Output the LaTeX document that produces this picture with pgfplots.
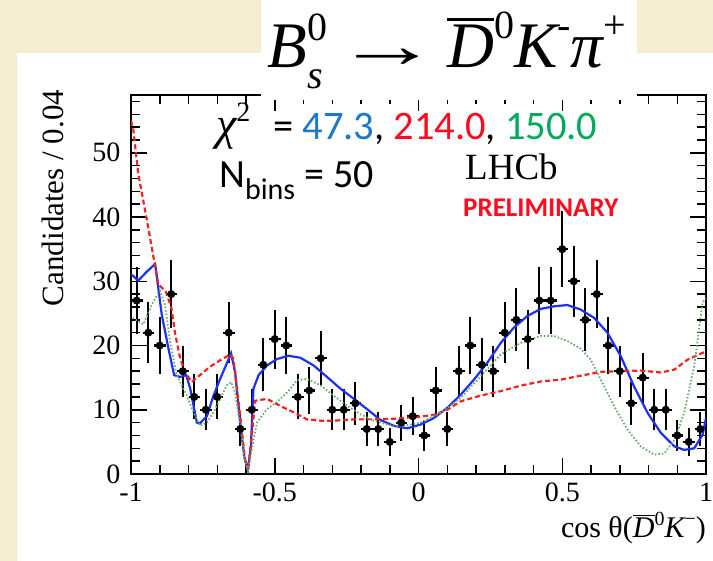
\documentclass[border=0pt]{standalone}
\usepackage{pgfplots}
\pgfplotsset{compat=1.18}
\usepackage{fontspec}
\setmainfont{Liberation Serif}
\newfontfamily\calibri{Carlito}

\definecolor{parch}{RGB}{244,237,207}
\definecolor{txtblue}{RGB}{30,120,200}
\definecolor{txtred}{RGB}{255,10,30}
\definecolor{txtgreen}{RGB}{0,170,90}
\definecolor{fitblue}{RGB}{30,50,235}
\definecolor{fitred}{RGB}{240,35,35}
\definecolor{fitgreen}{RGB}{100,170,100}

% italic letter with a bar over it
\newcommand{\barit}[1]{\leavevmode\hbox{\vbox{\hrule height 0.05em\kern0.07em\hbox{\itshape #1}}}}
% raised or lowered small text
\newcommand{\up}[3]{\raisebox{#1}{\fontsize{#2}{#2}\selectfont #3}}

% binned data: bin centre, candidates, half bin width, Poisson error
\pgfplotstableread{
x y ex ey
-0.98 27 0.02 5.2
-0.94 22 0.02 4.7
-0.90 20 0.02 4.5
-0.86 28 0.02 5.3
-0.82 16 0.02 4.0
-0.78 12 0.02 3.5
-0.74 10 0.02 3.2
-0.70 12 0.02 3.5
-0.66 22 0.02 4.7
-0.62 7 0.02 2.6
-0.58 10 0.02 3.2
-0.54 17 0.02 4.1
-0.50 21 0.02 4.6
-0.46 20 0.02 4.5
-0.42 12 0.02 3.5
-0.38 13 0.02 3.6
-0.34 18 0.02 4.2
-0.30 10 0.02 3.2
-0.26 10 0.02 3.2
-0.22 11 0.02 3.3
-0.18 7 0.02 2.6
-0.14 7 0.02 2.6
-0.10 5 0.02 2.2
-0.06 8 0.02 2.8
-0.02 9 0.02 3.0
0.02 6 0.02 2.4
0.06 13 0.02 3.6
0.10 7 0.02 2.6
0.14 16 0.02 4.0
0.18 20 0.02 4.5
0.22 17 0.02 4.1
0.26 16 0.02 4.0
0.30 22 0.02 4.7
0.34 24 0.02 4.9
0.38 21 0.02 4.6
0.42 27 0.02 5.2
0.46 27 0.02 5.2
0.50 35 0.02 5.9
0.54 30 0.02 5.5
0.58 24 0.02 4.9
0.62 28 0.02 5.3
0.66 20 0.02 4.5
0.70 16 0.02 4.0
0.74 11 0.02 3.3
0.78 15 0.02 3.9
0.82 10 0.02 3.2
0.86 10 0.02 3.2
0.90 6 0.02 2.4
0.94 5 0.02 2.2
0.98 7 0.02 2.6
}\bindata

\begin{document}
\begin{tikzpicture}[x=1pt,y=1pt]
\useasboundingbox (0,0) rectangle (713,561);
\fill[parch] (0,0) rectangle (713,561);
\fill[white] (17,0) rectangle (713,508);

\begin{axis}[
  at={(131pt,87pt)}, anchor=south west,
  scale only axis, width=575pt, height=379pt,
  xmin=-1, xmax=1, ymin=0, ymax=59,
  xtick={-1,-0.5,0,0.5,1},
  xticklabels={-1,-0.5,0,0.5,1},
  minor xtick={-0.9,-0.8,-0.7,-0.6,-0.4,-0.3,-0.2,-0.1,0.1,0.2,0.3,0.4,0.6,0.7,0.8,0.9},
  ytick={0,10,20,30,40,50},
  yticklabels={0,10,20,30,40,50},
  minor ytick={2,4,6,8,12,14,16,18,22,24,26,28,32,34,36,38,42,44,46,48,52,54,56,58},
  tick pos=both,
  major tick length=16pt, minor tick length=9pt,
  tick style={line width=1.5pt, black},
  axis line style={line width=1.5pt},
  ticklabel style={font=\fontsize{28}{30}\selectfont},
  xticklabel style={yshift=-5pt},
  yticklabel style={xshift=-7pt},
  clip=true,
]
\addplot[only marks, mark=*, mark size=3.8pt, black,
  error bars/.cd, x dir=both, x explicit, y dir=both, y explicit,
  error mark=none, error bar style={line width=2.2pt, black}]
  table[x=x, y=y, x error=ex, y error=ey] {\bindata};

% total fit
\addplot[fitblue, line width=2.2pt] coordinates {
(-1.0,31.0) (-0.994,30.9) (-0.975,30.1) (-0.945,31.5) (-0.916,32.7) (-0.893,24.8)
(-0.870,19.6) (-0.850,15.4) (-0.829,15.1) (-0.808,15.4) (-0.794,13.3) (-0.771,8.0)
(-0.760,7.9) (-0.736,9.0) (-0.713,12.2) (-0.690,14.8) (-0.667,17.2) (-0.652,18.8)
(-0.638,15.9) (-0.620,8.0) (-0.606,2.7) (-0.593,0.6) (-0.583,4.3) (-0.574,13.3)
(-0.556,15.4) (-0.527,16.9) (-0.492,17.9) (-0.452,18.4) (-0.411,18.1) (-0.365,16.9)
(-0.318,15.1) (-0.272,13.3) (-0.225,11.7) (-0.179,10.1) (-0.132,8.4) (-0.086,7.5)
(-0.039,7.1) (0.007,7.7) (0.053,8.7) (0.100,10.3) (0.146,12.3) (0.193,14.7)
(0.239,17.3) (0.286,20.4) (0.332,22.8) (0.379,24.6) (0.425,25.7) (0.471,26.1)
(0.518,26.3) (0.564,25.6) (0.611,24.3) (0.657,22.0) (0.704,18.3) (0.750,13.6)
(0.797,9.5) (0.843,6.4) (0.890,4.3) (0.924,3.75) (0.959,4.0) (0.988,6.1) (1.0,8.7)
};

% alternative model, dashed
\addplot[fitred, line width=2.2pt, dash pattern=on 5pt off 3pt] coordinates {
(-1.0,55.0) (-0.992,53.6) (-0.975,46.8) (-0.945,39.6) (-0.922,33.8) (-0.905,29.5)
(-0.880,28.5) (-0.860,26.0) (-0.847,22.0) (-0.829,18.0) (-0.812,15.9) (-0.789,14.3)
(-0.760,15.4) (-0.725,16.7) (-0.690,17.7) (-0.655,18.6) (-0.644,18.0) (-0.620,9.0)
(-0.602,1.7) (-0.593,0.6) (-0.580,5.9) (-0.568,11.4) (-0.527,11.7) (-0.481,10.6)
(-0.434,9.6) (-0.388,8.5) (-0.341,8.3) (-0.295,8.3) (-0.225,8.5) (-0.156,8.5)
(-0.086,8.6) (0.000,8.9) (0.053,9.2) (0.100,10.0) (0.146,11.3) (0.216,12.2)
(0.286,12.9) (0.355,13.75) (0.425,14.4) (0.495,14.7) (0.564,15.3) (0.634,15.9)
(0.704,16.0) (0.773,16.1) (0.843,15.8) (0.890,16.25) (0.936,17.8) (1.0,19.1)
};

% alternative model, dotted
\addplot[fitgreen, line width=1.8pt, dash pattern=on 1.5pt off 2pt] coordinates {
(-0.994,24.3) (-0.957,23.3) (-0.922,26.9) (-0.899,28.5) (-0.882,26.4) (-0.864,20.6)
(-0.841,15.4) (-0.806,12.2) (-0.783,9.6) (-0.760,7.5) (-0.736,8.0) (-0.713,9.6)
(-0.690,11.7) (-0.667,13.8) (-0.652,14.3) (-0.638,12.7) (-0.620,7.5) (-0.605,2.2)
(-0.593,0.6) (-0.580,3.8) (-0.562,8.0) (-0.527,10.1) (-0.492,11.2) (-0.457,12.7)
(-0.422,14.6) (-0.388,14.8) (-0.341,13.8) (-0.295,12.2) (-0.248,10.6) (-0.202,9.3)
(-0.156,8.3) (-0.109,7.7) (-0.063,7.4) (0.007,8.0) (0.076,9.5) (0.146,11.8)
(0.216,15.2) (0.286,18.6) (0.355,20.4) (0.425,21.5) (0.471,21.5) (0.518,20.7)
(0.564,19.5) (0.599,17.8) (0.634,14.7) (0.681,10.5) (0.727,6.9) (0.773,4.3)
(0.820,3.0) (0.855,3.2) (0.890,5.3) (0.924,9.5) (0.959,16.8) (0.988,26.7) (1.0,27.4)
};
\end{axis}

% axis titles
\node[rotate=90, anchor=base, inner sep=0] at (63,363)
  {\fontsize{31}{34}\selectfont Candidates / 0.04};
\node[anchor=base east, inner sep=0] at (706,23)
  {\fontsize{30}{34}\selectfont cos θ(\barit{D}\up{0.42em}{20}{0}{\itshape K}\up{0.42em}{20}{−})};

% decay title on its white tab
\fill[white] (261,461) rectangle (637,561);
\node[anchor=base, inner sep=0] at (447,493)
  {\fontsize{65}{68}\selectfont {\itshape B}\makebox[0pt][l]{\up{-0.32em}{40}{\itshape s}}\up{0.42em}{40}{0}\hspace{0.12em}\scalebox{1.6}[1]{→}\hspace{0.12em}\barit{D}\up{0.45em}{40}{0}{\itshape K}\up{0.45em}{40}{-}{\itshape π}\up{0.45em}{40}{+}};

% fit summary
\node[anchor=base west, inner sep=0] at (216,421)
  {\fontsize{46}{48}\selectfont{\itshape χ}\up{0.4em}{28}{2}};
\node[anchor=base west, inner sep=0] at (273,421)
  {\calibri\fontsize{40.5}{42}\selectfont = \textcolor{txtblue}{47.3}, \textcolor{txtred}{214.0}, \textcolor{txtgreen}{150.0}};
\node[anchor=base west, inner sep=0] at (219,373)
  {\calibri\fontsize{40}{42}\selectfont N\up{-0.3em}{30}{bins} = 50};
\node[anchor=base west, inner sep=0] at (465,381)
  {\fontsize{37}{39}\selectfont LHCb};
\node[anchor=base west, inner sep=0, text=txtred] at (463,344)
  {\calibri\bfseries\fontsize{27}{29}\selectfont PRELIMINARY};
\end{tikzpicture}
\end{document}
